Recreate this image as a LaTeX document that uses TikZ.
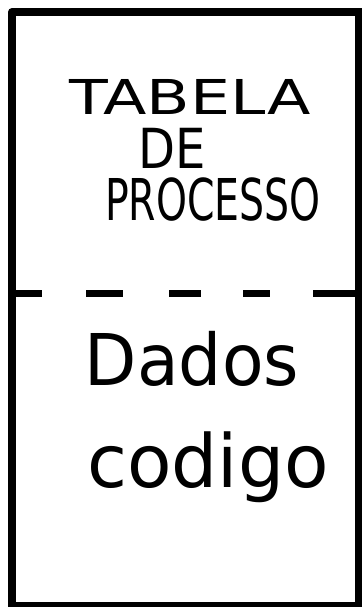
\documentclass[tikz,border=0pt]{standalone}
\usepackage{fontspec}
\setmainfont{DejaVu Sans}
\usepackage{tikz}
\usetikzlibrary{positioning}

\begin{document}
\begin{tikzpicture}[x=0.03cm, y=-0.03cm,
        borda/.style={line width=0.24cm, line cap=round, line join=round},
        caixa/.style={font=\fontsize{41}{45}\selectfont, inner sep=0pt},
        minusc/.style={font=\fontsize{58}{62}\selectfont, inner sep=0pt}]
        \useasboundingbox (0,0) rectangle (362,607);
        % contorno
        \draw[borda] (12,606) -- (12,12) -- (366,12);
        \draw[borda] (359,12) -- (359,611);
        \draw[borda] (12,606) -- (366,606);
        % divisao tracejada
        \foreach \a/\b in {9/42, 86/123, 169/201, 243/270, 313/359} {
            \draw[line width=0.21cm] (\a,293) -- (\b,293);
        }
        \node[caixa, xscale=1.32] (tabela) at (190,97) {TABELA};
        \node[caixa, yscale=1.15] (de) at (172,148) {DE};
        \node[caixa, xscale=0.82, yscale=1.2] (processo) at (213,200) {PROCESSO};
        \node[minusc, yscale=1.05] (dados) at (192,359) {Dados};
        \node[minusc, xscale=1.07, yscale=1.08] (codigo) at (208,467) {codigo};
    \end{tikzpicture}
\end{document}
